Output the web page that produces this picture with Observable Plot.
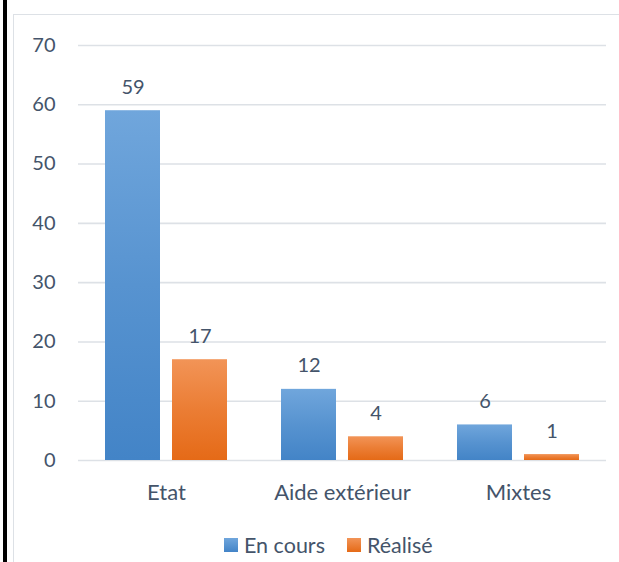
<!DOCTYPE html>
<html>
<head>
<meta charset="utf-8">
<script src="https://cdn.jsdelivr.net/npm/d3@7"></script>
<script src="https://cdn.jsdelivr.net/npm/@observablehq/plot@0.6"></script>
<style>
  html, body { margin: 0; padding: 0; background: #fff; overflow: hidden; }
  #page { position: relative; width: 619px; height: 562px; overflow: hidden; font-family: Lato, "Open Sans", sans-serif; color: #44546a; }
  #blackline { position: absolute; left: 3px; top: 0; width: 3.5px; height: 562px; background: #000; }
  #box { position: absolute; left: 13px; top: 14px; width: 700px; height: 700px; border-left: 1.5px solid #dde1e6; border-top: 1.5px solid #dde1e6; }
  #chart { position: absolute; left: 0; top: 0; }
  #legend { position: absolute; left: 224px; top: 532px; display: flex; align-items: center; font-size: 21.5px; }
  .sw { width: 14px; height: 14px; display: inline-block; margin-right: 6px; }
  .item { display: flex; align-items: center; margin-right: 22px; }
</style>
</head>
<body>
<div id="page">
  <div id="blackline"></div>
  <div id="box"></div>
  <div id="chart"></div>
  <div id="legend"></div>
</div>
<script>
const categories = ["Etat", "Aide extérieur", "Mixtes"];
const seriesNames = ["En cours", "Réalisé"];
const enCours = [59, 12, 6];
const realise = [17, 4, 1];
const yTicks = [0, 10, 20, 30, 40, 50, 60, 70];

const rowsBlue = categories.map((c, i) => ({cat: c, series: seriesNames[0], value: enCours[i]}));
const rowsOrange = categories.map((c, i) => ({cat: c, series: seriesNames[1], value: realise[i]}));

const textColor = "#44546a";
const gridColor = "#dde1e6";

function gradientDefs() {
  const ns = "http://www.w3.org/2000/svg";
  const defs = document.createElementNS(ns, "defs");
  const mk = (id, top, bottom) => {
    const g = document.createElementNS(ns, "linearGradient");
    g.setAttribute("id", id);
    g.setAttribute("x1", "0"); g.setAttribute("y1", "0");
    g.setAttribute("x2", "0"); g.setAttribute("y2", "1");
    const s1 = document.createElementNS(ns, "stop");
    s1.setAttribute("offset", "0"); s1.setAttribute("stop-color", top);
    const s2 = document.createElementNS(ns, "stop");
    s2.setAttribute("offset", "0.5"); s2.setAttribute("stop-color", d3.interpolateRgb(top, bottom)(0.55));
    const s3 = document.createElementNS(ns, "stop");
    s3.setAttribute("offset", "1"); s3.setAttribute("stop-color", bottom);
    g.append(s1, s2, s3);
    defs.append(g);
  };
  mk("gBlue", "#70a6dc", "#4384c7");
  mk("gOrange", "#f29457", "#e56a17");
  return defs;
}

const chart = Plot.plot({
  width: 619,
  height: 515,
  marginLeft: 78,
  marginRight: 13,
  marginTop: 45,
  marginBottom: 55,
  style: {fontFamily: "Lato, 'Open Sans', sans-serif", fontSize: "20px", color: textColor, background: "transparent", overflow: "visible"},
  y: {domain: [0, 70], label: null},
  x: {domain: categories, padding: 0, label: null},
  marks: [
    gradientDefs,
    Plot.ruleY(yTicks, {stroke: gridColor, strokeWidth: 1.6}),
    Plot.axisY(yTicks, {tickSize: 0, tickPadding: 23, tickFormat: d => String(d), fontSize: 20, fill: textColor}),
    Plot.axisX({tickSize: 0, tickPadding: 23.5, fontSize: 22, fill: textColor}),
    Plot.barY(rowsBlue, {x: "cat", y: "value", fill: "url(#gBlue)", insetLeft: 27, insetRight: 94}),
    Plot.barY(rowsOrange, {x: "cat", y: "value", fill: "url(#gOrange)", insetLeft: 94, insetRight: 27}),
    Plot.text(rowsBlue, {x: "cat", y: "value", text: d => String(d.value), dx: -33.5, dy: -17, lineAnchor: "bottom", fill: textColor, fontSize: 20}),
    Plot.text(rowsOrange, {x: "cat", y: "value", text: d => String(d.value), dx: 33.5, dy: -17, lineAnchor: "bottom", fill: textColor, fontSize: 20})
  ]
});
document.getElementById("chart").append(chart);

const legend = document.getElementById("legend");
const grads = ["linear-gradient(#70a6dc, #4384c7)", "linear-gradient(#f29457, #e56a17)"];
seriesNames.forEach((name, i) => {
  const item = document.createElement("div");
  item.className = "item";
  const sw = document.createElement("span");
  sw.className = "sw";
  sw.style.background = grads[i];
  const t = document.createElement("span");
  t.textContent = name;
  item.append(sw, t);
  legend.append(item);
});
</script>
</body>
</html>
